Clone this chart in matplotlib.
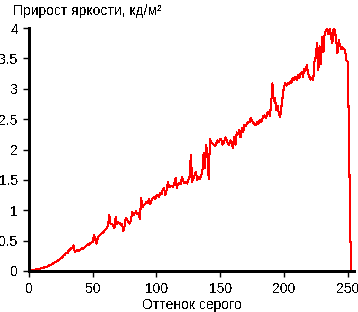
import matplotlib
matplotlib.use("Agg")
import matplotlib.pyplot as plt
import numpy as np

plt.rcParams['font.family'] = ['Liberation Sans', 'DejaVu Sans']
plt.rcParams['text.antialiased'] = False

values = [
    0.00, 0.01, 0.01, 0.02, 0.02, 0.02, 0.03, 0.03, 0.04, 0.04,
    0.05, 0.05, 0.06, 0.07, 0.07, 0.08, 0.10, 0.10, 0.11, 0.13,
    0.14, 0.15, 0.16, 0.18, 0.19, 0.21, 0.22, 0.25, 0.27, 0.30,
    0.29, 0.33, 0.35, 0.37, 0.38, 0.42, 0.31, 0.33, 0.34, 0.33,
    0.35, 0.36, 0.38, 0.37, 0.40, 0.42, 0.44, 0.43, 0.46, 0.47,
    0.48, 0.60, 0.52, 0.45, 0.55, 0.58, 0.60, 0.62, 0.63, 0.66,
    0.68, 0.71, 0.74, 0.92, 0.78, 0.77, 0.76, 0.70, 0.89, 0.78,
    0.80, 0.79, 0.76, 0.78, 0.65, 0.74, 0.88, 0.84, 0.80, 0.78,
    0.84, 0.97, 0.92, 0.95, 0.98, 0.94, 0.96, 0.86, 1.20, 1.05,
    1.08, 1.10, 1.14, 1.12, 1.18, 1.10, 1.16, 1.20, 1.22, 1.18,
    1.24, 1.25, 1.22, 1.28, 1.26, 1.35, 1.36, 1.25, 1.33, 1.47,
    1.38, 1.39, 1.40, 1.38, 1.44, 1.53, 1.37, 1.44, 1.45, 1.43,
    1.55, 1.48, 1.45, 1.47, 1.44, 1.50, 1.55, 1.91, 1.47, 1.52,
    1.58, 1.63, 1.50, 1.55, 1.52, 1.56, 1.63, 1.94, 1.70, 2.07,
    1.90, 1.52, 2.17, 2.12, 2.10, 2.08, 2.05, 2.10, 2.15, 2.12,
    2.18, 2.15, 2.08, 2.12, 2.20, 2.16, 2.10, 2.08, 2.15, 2.12,
    2.02, 2.20, 2.08, 2.28, 2.25, 2.32, 2.20, 2.35, 2.28, 2.40,
    2.38, 2.42, 2.46, 2.45, 2.52, 2.48, 2.44, 2.42, 2.40, 2.45,
    2.42, 2.48, 2.45, 2.50, 2.55, 2.56, 2.52, 2.60, 2.62, 2.55,
    2.75, 3.09, 2.80, 2.85, 2.65, 2.72, 2.60, 2.53, 2.70, 2.88,
    3.03, 3.09, 3.05, 3.10, 3.08, 3.12, 3.10, 3.18, 3.15, 3.20,
    3.14, 3.22, 3.18, 3.24, 3.28, 3.20, 3.32, 3.30, 3.39, 3.25,
    3.20, 3.15, 3.18, 3.14, 3.45, 3.52, 3.75, 3.30, 3.70, 3.40,
    3.85, 3.60, 3.92, 3.95, 4.00, 3.90, 4.00, 3.85, 3.75, 4.00,
    3.95, 3.82, 3.58, 3.80, 3.72, 3.65, 3.68, 3.66, 3.63, 3.47,
    3.45, 2.37, 0.65, 0.00,
]
shades = list(range(len(values)))

x_ticks = [0, 50, 100, 150, 200, 250]
y_ticks = [0, 0.5, 1, 1.5, 2, 2.5, 3, 3.5, 4]
y_ticklabels = ['0', '0.5', '1', '1.5', '2', '2.5', '3', '3.5', '4']

fig = plt.figure(figsize=(3.58, 3.12), dpi=100)
ax = fig.add_axes([29/358, 41/312, (354-29)/358, (271-28)/312])
ax.plot(shades, values, color='#ff0000', linewidth=0.75, antialiased=False)
ax.set_xlim(0, 255)
ax.set_ylim(0, 4)
ax.set_xticks(x_ticks)
ax.set_yticks(y_ticks)
ax.set_yticklabels(y_ticklabels)
for s in ['top', 'right']:
    ax.spines[s].set_visible(False)
for s in ['left', 'bottom']:
    ax.spines[s].set_linewidth(1.0)
    ax.spines[s].set_antialiased(False)
ax.tick_params(axis='both', direction='out', length=4, width=1, labelsize=10, pad=4, colors='black')
ax.set_xlabel('Оттенок серого', fontsize=10, labelpad=1)
fig.text(13/358, 1-15/312, 'Прирост яркости, кд/м²', fontsize=10, ha='left', va='baseline')
fig.savefig('out.png', dpi=100)
